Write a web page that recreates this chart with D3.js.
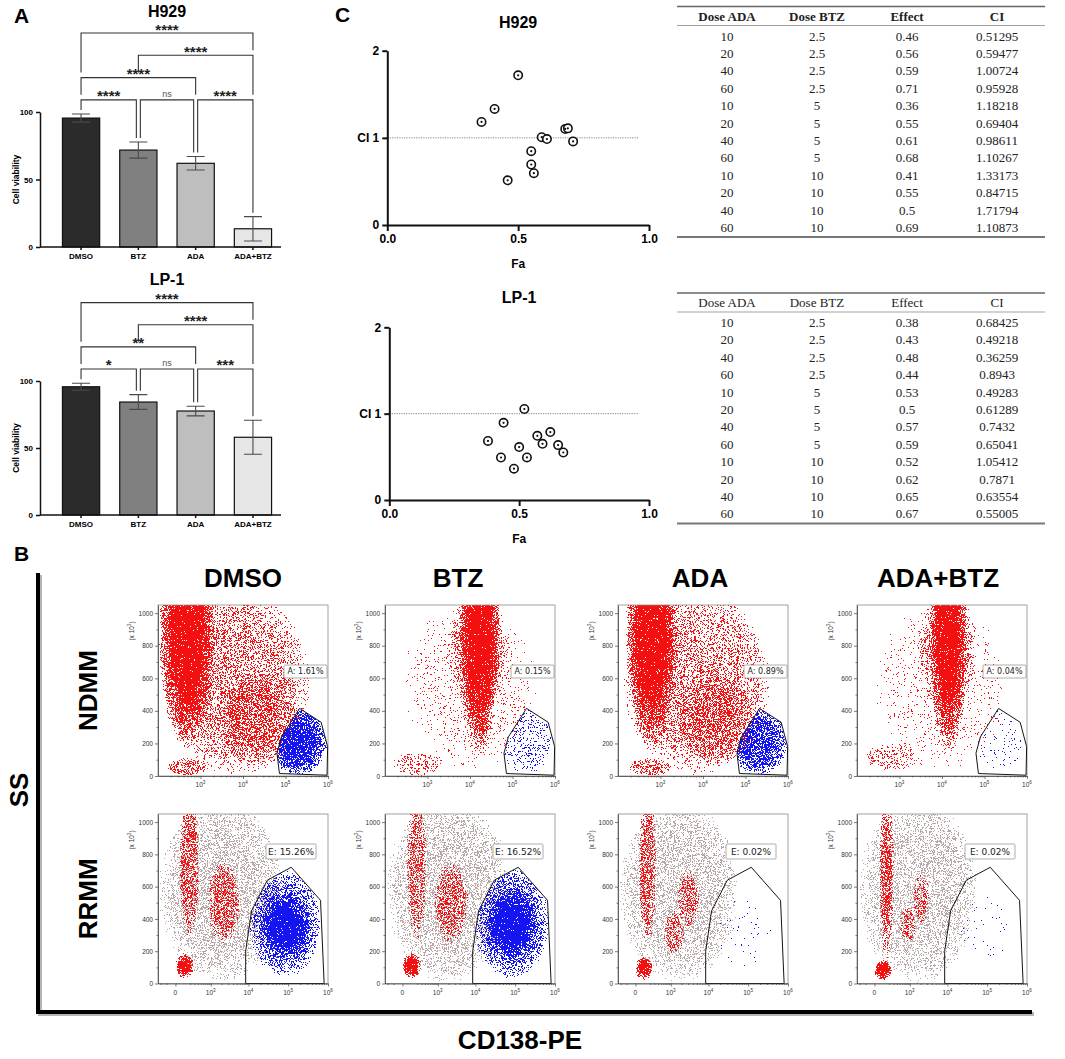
<!DOCTYPE html>
<html>
<head>
<meta charset="utf-8">
<script src="https://cdn.jsdelivr.net/npm/d3@7"></script>
<style>
  body { margin: 0; background: #fff; }
  svg { display: block; }
  text { font-family: "Liberation Sans", Arial, sans-serif; }
  .serif text { font-family: "Liberation Serif", "Times New Roman", serif; }
  .gatelabel { font-family: "DejaVu Sans", Verdana, sans-serif; }
</style>
</head>
<body>
<script>
// ---------- data ----------
const groups = ['DMSO', 'BTZ', 'ADA', 'ADA+BTZ'];

// panel A: cell viability (mean, error)
const h929Mean = [95.5, 71.8, 62, 13.5];
const h929Err = [3, 6, 5, 9];
const lp1Mean = [95.7, 84.3, 77.6, 58];
const lp1Err = [2.6, 5.5, 3.6, 12.7];
// comparisons, listed bottom to top: [group a, group b, label]
const h929Stats = [[0, 1, '****'], [1, 2, 'ns'], [2, 3, '****'], [0, 2, '****'], [1, 3, '****'], [0, 3, '****']];
const lp1Stats = [[0, 1, '*'], [1, 2, 'ns'], [2, 3, '***'], [0, 2, '**'], [1, 3, '****'], [0, 3, '****']];

// panel C: combination index tables
const tableHead = ['Dose ADA', 'Dose BTZ', 'Effect', 'CI'];
const doseADA = ['10', '20', '40', '60', '10', '20', '40', '60', '10', '20', '40', '60'];
const doseBTZ = ['2.5', '2.5', '2.5', '2.5', '5', '5', '5', '5', '10', '10', '10', '10'];
const h929Effect = [0.46, 0.56, 0.59, 0.71, 0.36, 0.55, 0.61, 0.68, 0.41, 0.55, 0.5, 0.69];
const h929CI = [0.51295, 0.59477, 1.00724, 0.95928, 1.18218, 0.69404, 0.98611, 1.10267, 1.33173, 0.84715, 1.71794, 1.10873];
const lp1Effect = [0.38, 0.43, 0.48, 0.44, 0.53, 0.5, 0.57, 0.59, 0.52, 0.62, 0.65, 0.67];
const lp1CI = [0.68425, 0.49218, 0.36259, 0.8943, 0.49283, 0.61289, 0.7432, 0.65041, 1.05412, 0.7871, 0.63554, 0.55005];

// panel B: flow cytometry
const flowRows = ['NDMM', 'RRMM'];
const gateText = [['A: 1.61%', 'A: 0.15%', 'A: 0.89%', 'A: 0.04%'],
                  ['E: 15.26%', 'E: 16.52%', 'E: 0.02%', 'E: 0.02%']];
// gate polygons [CD138-PE, SS (x10^3)]
const ndmmGate = [[72000, 15], [63000, 140], [80000, 240], [214000, 415], [690000, 330], [980000, 180], [950000, 5]];
const rrmmGate = [[8500, 0], [8500, 200], [12000, 450], [30000, 640], [120000, 720], [650000, 515], [800000, 0]];
// event clouds: [column, colour, x from, x to, y from, y to, density]
const ndmmClouds = [
  [0, 'red', 130, 400000, 0, 1150, 0.32], [0, 'red', 2000, 200000, 60, 650, 0.4],
  [0, 'red', 105, 2300, 170, 1600, 1.0], [0, 'red', 160, 1600, 0, 110, 0.45],
  [0, 'blue', 40000, 1000000, 0, 420, 0.9],
  [1, 'red', 200, 500000, 0, 1100, 0.05], [1, 'red', 5500, 50000, 120, 1600, 1.0],
  [1, 'red', 3000, 80000, 380, 1150, 0.4], [1, 'red', 150, 2500, 0, 150, 0.25],
  [1, 'blue', 50000, 900000, 0, 450, 0.15],
  [2, 'red', 130, 400000, 0, 1150, 0.3], [2, 'red', 2000, 200000, 60, 650, 0.38],
  [2, 'red', 150, 2600, 170, 1600, 1.0], [2, 'red', 180, 1800, 0, 110, 0.45],
  [2, 'blue', 40000, 1000000, 0, 420, 0.75],
  [3, 'red', 200, 500000, 0, 1100, 0.04], [3, 'red', 5000, 40000, 150, 1600, 1.0],
  [3, 'red', 2500, 70000, 380, 1150, 0.3], [3, 'red', 150, 3000, 30, 200, 0.22],
  [3, 'blue', 50000, 900000, 0, 450, 0.03]
];
const rrmmClouds = [
  [0, 'gray', -250, 80000, 0, 1150, 0.34], [0, 'red', 40, 450, 280, 1200, 0.5],
  [0, 'red', 800, 6000, 250, 750, 0.5], [0, 'red', 0, 280, 30, 190, 1.0],
  [0, 'blue', 20000, 350000, 150, 560, 1.0], [0, 'blue', 10000, 700000, 40, 700, 0.6],
  [1, 'gray', -250, 80000, 0, 1150, 0.34], [1, 'red', 40, 450, 250, 1200, 0.45],
  [1, 'red', 800, 6500, 250, 750, 0.45], [1, 'red', 0, 300, 30, 190, 1.0],
  [1, 'blue', 20000, 350000, 150, 580, 1.0], [1, 'blue', 9000, 750000, 30, 720, 0.65],
  [2, 'gray', -250, 60000, 0, 1150, 0.32], [2, 'red', 30, 350, 250, 1200, 0.5],
  [2, 'red', 600, 2500, 180, 450, 0.4], [2, 'red', 1500, 6000, 350, 700, 0.4],
  [2, 'red', 0, 250, 20, 170, 1.0], [2, 'blue', 10000, 600000, 50, 600, 0.015],
  [3, 'gray', -250, 60000, 0, 1150, 0.3], [3, 'red', 50, 320, 150, 1200, 0.55],
  [3, 'red', 500, 1500, 250, 480, 0.4], [3, 'red', 1200, 3500, 380, 680, 0.4],
  [3, 'red', 0, 260, 20, 150, 1.0], [3, 'blue', 10000, 600000, 50, 600, 0.015]
];

// ---------- page ----------
const W = 1065, H = 1059;
const svg = d3.select('body').append('svg').attr('width', W).attr('height', H);
const defs = svg.append('defs');
const barFill = ['#2b2b2b', '#808080', '#bebebe', '#e6e6e6'];
const dotColour = { red: '#f21010', blue: '#1515f0', gray: '#b9a6a6' };

const label = (x, y, t, size, anchor) => svg.append('text')
  .attr('x', x).attr('y', y).attr('font-size', size).attr('font-weight', 'bold')
  .attr('text-anchor', anchor || 'start').text(t);

label(14, 23, 'A', 21);
label(335, 22, 'C', 21);
label(14, 561, 'B', 21);

// ---------- panel A ----------
function barPanel(p) {
  const g = svg.append('g');
  const x = d3.scaleBand().domain(groups).range([52.4, 281.6]).paddingInner(0.35).paddingOuter(0.175);
  const y = d3.scaleLinear().domain([0, 100]).range(p.yRange);
  const cx = i => x(groups[i]) + x.bandwidth() / 2;

  g.append('text').attr('x', 167).attr('y', p.titleY).attr('text-anchor', 'middle')
    .attr('font-size', 16).attr('font-weight', 'bold').text(p.title);

  g.selectAll('rect').data(groups).join('rect')
    .attr('x', d => x(d)).attr('width', x.bandwidth())
    .attr('y', (d, i) => y(p.mean[i])).attr('height', (d, i) => y(0) - y(p.mean[i]))
    .attr('fill', (d, i) => barFill[i]).attr('stroke', '#111').attr('stroke-width', 1.2);

  // error bars
  const eb = g.append('g').attr('stroke', '#4a4a4a').attr('stroke-width', 1.1);
  groups.forEach((d, i) => {
    const lo = y(p.mean[i] - p.err[i]), hi = y(p.mean[i] + p.err[i]);
    eb.append('path').attr('d', `M${cx(i)},${lo}V${hi}M${cx(i) - 9},${hi}H${cx(i) + 9}M${cx(i) - 9},${lo}H${cx(i) + 9}`);
  });

  // axes
  const gy = g.append('g').attr('transform', 'translate(40,0)')
    .call(d3.axisLeft(y).tickValues([0, 50, 100]).tickSize(4).tickSizeOuter(0));
  gy.attr('font-size', 8).attr('font-weight', 'bold');
  gy.selectAll('path,line').attr('stroke', '#111').attr('stroke-width', 1.5);
  const gx = g.append('g').attr('transform', `translate(0,${y(0)})`)
    .call(d3.axisBottom(x).tickSize(3).tickSizeOuter(0));
  gx.attr('font-size', 8).attr('font-weight', 'bold');
  gx.select('.domain').attr('d', 'M40,0H281');
  gx.selectAll('path,line').attr('stroke', '#111').attr('stroke-width', 1.5);

  g.append('text').attr('transform', `translate(19,${(y(0) + y(100)) / 2}) rotate(-90)`)
    .attr('text-anchor', 'middle').attr('font-size', 8.5).attr('font-weight', 'bold').text('Cell viability');

  // significance brackets
  const br = p.stats.map((s, i) => ({ a: s[0], b: s[1], txt: s[2], level: i < 3 ? 0 : i - 2 }));
  const levelY = l => y(109 + 16.5 * l);
  const bg = g.append('g').attr('stroke', '#333').attr('stroke-width', 1.1).attr('fill', 'none');
  br.forEach(b => {
    const ly = levelY(b.level);
    const ends = [b.a, b.b].map((gi, k) => {
      const shared = br.some(o => o !== b && o.level === b.level && (o.a === gi || o.b === gi));
      const px = cx(gi) + (shared ? (k === 0 ? 2 : -2) : 0);
      const below = br.filter(o => o.level < b.level && cx(o.a) - 3 <= px && cx(o.b) + 3 >= px)
        .map(o => levelY(o.level));
      const bottom = below.length ? d3.min(below) - 5 : y(p.mean[gi] + p.err[gi]) - 4;
      return [px, bottom];
    });
    bg.append('path').attr('d', `M${ends[0][0]},${ends[0][1]}V${ly}H${ends[1][0]}V${ends[1][1]}`);
    const mid = (ends[0][0] + ends[1][0]) / 2;
    if (b.txt === 'ns') {
      g.append('text').attr('x', mid).attr('y', ly - 3).attr('text-anchor', 'middle')
        .attr('font-size', 9).attr('fill', '#555').text('ns');
    } else {
      g.append('text').attr('x', mid).attr('y', ly + 1.5).attr('text-anchor', 'middle')
        .attr('font-size', 15).attr('font-weight', 'bold').attr('fill', '#222').text(b.txt);
    }
  });
}

barPanel({ title: 'H929', titleY: 17, yRange: [247, 112], mean: h929Mean, err: h929Err, stats: h929Stats });
barPanel({ title: 'LP-1', titleY: 285, yRange: [515, 381], mean: lp1Mean, err: lp1Err, stats: lp1Stats });

// ---------- panel C ----------
function ciPanel(p) {
  const g = svg.append('g');
  const x = d3.scaleLinear().domain([0, 1]).range(p.xRange);
  const y = d3.scaleLinear().domain([0, 2]).range(p.yRange);

  g.append('text').attr('x', x(0.5)).attr('y', p.titleY).attr('text-anchor', 'middle')
    .attr('font-size', 16).attr('font-weight', 'bold').text(p.title);

  g.append('line').attr('x1', x(0)).attr('x2', x(0.96)).attr('y1', y(1)).attr('y2', y(1))
    .attr('stroke', '#666').attr('stroke-width', 0.8).attr('stroke-dasharray', '1.2 1.2');

  const gx = g.append('g').attr('transform', `translate(0,${y(0)})`)
    .call(d3.axisBottom(x).tickValues([0, 0.5, 1]).tickFormat(d3.format('.1f')).tickSize(6).tickSizeOuter(0));
  const gy = g.append('g').attr('transform', `translate(${x(0)},0)`)
    .call(d3.axisLeft(y).tickValues([0, 1, 2]).tickFormat(d => d === 1 ? 'CI 1' : d).tickSize(5).tickSizeOuter(0));
  [gx, gy].forEach(a => {
    a.attr('font-size', 12).attr('font-weight', 'bold');
    a.selectAll('path,line').attr('stroke', '#111').attr('stroke-width', 2);
  });
  g.append('text').attr('x', x(0.5)).attr('y', y(0) + 43).attr('text-anchor', 'middle')
    .attr('font-size', 12).attr('font-weight', 'bold').text('Fa');

  const pts = p.effect.map((e, i) => [e, p.ci[i]]);
  g.selectAll('circle.m').data(pts).join('circle').attr('class', 'm')
    .attr('cx', d => x(d[0])).attr('cy', d => y(d[1])).attr('r', 4.2)
    .attr('fill', '#fff').attr('stroke', '#111').attr('stroke-width', 1.6);
  g.selectAll('circle.c').data(pts).join('circle').attr('class', 'c')
    .attr('cx', d => x(d[0])).attr('cy', d => y(d[1])).attr('r', 1.1).attr('fill', '#111');
}

ciPanel({ title: 'H929', titleY: 28, xRange: [387.3, 649], yRange: [225, 50.7], effect: h929Effect, ci: h929CI });
ciPanel({ title: 'LP-1', titleY: 303, xRange: [389.3, 649], yRange: [500, 327.3], effect: lp1Effect, ci: lp1CI });

function ciTable(p) {
  const g = svg.append('g').attr('class', 'serif').attr('font-size', 13).attr('fill', '#222');
  const col = d3.scalePoint().domain(tableHead).range([727, 997]);
  const row = d3.scalePoint().domain(d3.range(doseADA.length)).range([p.top + 29.5, p.top + 29.5 + 11 * 17.4]);
  const rule = (yy, w, c) => g.append('line').attr('x1', 677).attr('x2', 1045)
    .attr('y1', yy).attr('y2', yy).attr('stroke', c).attr('stroke-width', w);
  rule(p.top, 1.3, '#666');
  rule(p.top + 19, 0.9, '#999');
  rule(row(11) + 9.5, 2, '#777');
  g.selectAll('text.h').data(tableHead).join('text').attr('class', 'h')
    .attr('x', d => col(d)).attr('y', p.top + 9.8).attr('dy', '0.35em').attr('text-anchor', 'middle')
    .attr('font-weight', p.bold ? 'bold' : 'normal').text(d => d);
  const cols = [doseADA, doseBTZ, p.effect, p.ci];
  cols.forEach((vals, c) => {
    g.selectAll(null).data(vals).join('text')
      .attr('x', col(tableHead[c])).attr('y', (d, i) => row(i)).attr('dy', '0.35em')
      .attr('text-anchor', 'middle').text(d => String(d));
  });
}

ciTable({ top: 6.5, bold: true, effect: h929Effect, ci: h929CI });
ciTable({ top: 293, bold: false, effect: lp1Effect, ci: lp1CI });

// ---------- panel B ----------
// stippled density: an equalised noise field is thresholded against each cloud's opacity
const erf = z => { const t = 1 / (1 + 0.3275911 * Math.abs(z));
  const v = 1 - t * (0.254829592 + t * (-0.284496736 + t * (1.421413741 + t * (-1.453152027 + t * 1.061405429)))) * Math.exp(-z * z);
  return z < 0 ? -v : v; };
const noiseTable = d3.range(0, 1.0001, 0.05).map(r => (0.5 * (1 + erf((r - 0.5) / (0.1 * Math.SQRT2)))).toFixed(4)).join(' ');

function stipple(id, colour, seed) {
  const f = defs.append('filter').attr('id', id)
    .attr('x', -0.05).attr('y', -0.05).attr('width', 1.1).attr('height', 1.1)
    .attr('color-interpolation-filters', 'sRGB');
  f.append('feTurbulence').attr('type', 'fractalNoise').attr('baseFrequency', 2.3)
    .attr('numOctaves', 2).attr('seed', seed).attr('result', 'noise');
  f.append('feColorMatrix').attr('in', 'noise').attr('type', 'matrix')
    .attr('values', '0 0 0 0 0  0 0 0 0 0  0 0 0 0 0  1 0 0 0 0').attr('result', 'raw');
  f.append('feComponentTransfer').attr('in', 'raw').attr('result', 'n')
    .append('feFuncA').attr('type', 'table').attr('tableValues', noiseTable);
  f.append('feComposite').attr('in', 'SourceAlpha').attr('in2', 'n').attr('operator', 'arithmetic')
    .attr('k1', 0).attr('k2', 1).attr('k3', -1).attr('k4', 0.49).attr('result', 'sum');
  f.append('feComponentTransfer').attr('in', 'sum').attr('result', 'mask')
    .append('feFuncA').attr('type', 'discrete').attr('tableValues', '0 1');
  f.append('feFlood').attr('flood-color', colour).attr('result', 'ink');
  f.append('feComposite').attr('in', 'ink').attr('in2', 'mask').attr('operator', 'in');
}
stipple('dots-red', dotColour.red, 3);
stipple('dots-blue', dotColour.blue, 11);
stipple('dots-gray', dotColour.gray, 23);

const grad = defs.append('radialGradient').attr('id', 'cloud');
[[0, 1], [0.55, 0.97], [0.78, 0.65], [0.92, 0.25], [1, 0]].forEach(s =>
  grad.append('stop').attr('offset', s[0]).attr('stop-color', '#000').attr('stop-opacity', s[1]));

const flowLeft = [158, 385, 618, 857];
const titleX = [243, 458, 700, 938];
const rowTop = [605, 814];
const rowH = [171, 169.5];
const plotW = 170;

function sup(sel, base, exp) {
  sel.text(base);
  sel.append('tspan').attr('dy', -3).attr('font-size', '70%').text(exp);
}

function flowPlot(row, col) {
  const L = flowLeft[col], T = rowTop[row], h = rowH[row];
  const x = row === 0
    ? d3.scaleLog().domain([100, 1e6]).range([L, L + plotW])
    : d3.scaleSymlog().constant(150).domain([-260, 1e6]).range([L, L + plotW]);
  const y = d3.scaleLinear().domain([0, 1050]).range([T + h, T]);
  const g = svg.append('g');
  const id = `p${row}${col}`;

  defs.append('clipPath').attr('id', `frame-${id}`).append('rect')
    .attr('x', L).attr('y', T).attr('width', plotW).attr('height', h);
  const gatePts = (row === 0 ? ndmmGate : rrmmGate).map(d => [x(d[0]), y(d[1])]);
  defs.append('clipPath').attr('id', `gate-${id}`).append('path')
    .attr('d', d3.line()(gatePts) + 'Z');

  const clouds = (row === 0 ? ndmmClouds : rrmmClouds).filter(c => c[0] === col);
  ['gray', 'red', 'blue'].forEach(colour => {
    const set = clouds.filter(c => c[1] === colour);
    if (!set.length) return;
    const outer = g.append('g').attr('clip-path', `url(#${colour === 'blue' ? 'gate' : 'frame'}-${id})`);
    const inner = outer.append('g').attr('filter', `url(#dots-${colour})`);
    inner.selectAll('ellipse').data(set).join('ellipse')
      .attr('cx', c => (x(c[2]) + x(c[3])) / 2).attr('rx', c => Math.abs(x(c[3]) - x(c[2])) / 2)
      .attr('cy', c => (y(c[4]) + y(c[5])) / 2).attr('ry', c => Math.abs(y(c[4]) - y(c[5])) / 2)
      .attr('fill', 'url(#cloud)').attr('fill-opacity', c => c[6]);
  });

  g.append('rect').attr('x', L).attr('y', T).attr('width', plotW).attr('height', h)
    .attr('fill', 'none').attr('stroke', '#8a8a8a').attr('stroke-width', 0.8);
  g.append('path').attr('d', d3.line()(gatePts) + 'Z')
    .attr('fill', 'none').attr('stroke', '#151515').attr('stroke-width', 1);

  // axes
  const ax = g.append('g').attr('transform', `translate(${L},0)`)
    .call(d3.axisLeft(y).tickValues(d3.range(0, 1001, 200)).tickFormat(d3.format('d'))
      .tickSize(3).tickSizeOuter(0).tickPadding(2));
  ax.attr('font-size', 6.5);
  ax.selectAll('text').attr('fill', '#333');
  g.append('g').attr('transform', `translate(${L},0)`)
    .call(d3.axisLeft(y).tickValues(d3.range(100, 1001, 200)).tickSize(1.5).tickFormat(''))
    .select('.domain').remove();

  const xMajor = row === 0 ? [1e3, 1e4, 1e5, 1e6] : [0, 1e3, 1e4, 1e5, 1e6];
  const xMinor = [];
  for (let k = row === 0 ? 2 : 3; k <= 5; k++) d3.range(2, 10).forEach(m => xMinor.push(m * 10 ** k));
  if (row === 1) d3.range(200, 1000, 100).concat([-100, -200]).forEach(v => xMinor.push(v));
  const bx = g.append('g').attr('transform', `translate(0,${T + h})`)
    .call(d3.axisBottom(x).tickValues(xMajor).tickSize(3).tickSizeOuter(0).tickFormat(''));
  g.append('g').attr('transform', `translate(0,${T + h})`)
    .call(d3.axisBottom(x).tickValues(xMinor).tickSize(1.5).tickFormat('')).select('.domain').remove();
  [ax, bx].forEach(a => a.selectAll('path,line').attr('stroke', '#444').attr('stroke-width', 0.8));
  g.selectAll('.tick line').attr('stroke', '#444').attr('stroke-width', 0.7);

  xMajor.forEach(v => {
    const t = g.append('text').attr('x', x(v)).attr('y', T + h + 11).attr('text-anchor', 'middle')
      .attr('font-size', 6.5).attr('fill', '#333');
    if (v === 0) t.text('0'); else sup(t, '10', String(Math.log10(v)));
  });
  const yl = g.append('text').attr('transform', `translate(${L - 24},${T + 26}) rotate(-90)`)
    .attr('text-anchor', 'middle').attr('font-size', 6.5).attr('fill', '#333');
  sup(yl, '(x 10', '3');
  yl.append('tspan').attr('dy', 3).text(')');

  // gate percentage
  const txt = gateText[row][col];
  const boxW = row === 0 ? 43 : 50, boxH = row === 0 ? 13 : 15;
  const bxX = row === 0 ? L + plotW - 1 - boxW : L + 133 - boxW / 2;
  const bxY = row === 0 ? T + 60 : T + 30;
  g.append('rect').attr('x', bxX).attr('y', bxY).attr('width', boxW).attr('height', boxH).attr('rx', 1)
    .attr('fill', '#fff').attr('stroke', '#9a9a9a').attr('stroke-width', 0.8);
  g.append('text').attr('class', 'gatelabel').attr('x', bxX + boxW / 2).attr('y', bxY + boxH / 2).attr('dy', '0.35em')
    .attr('text-anchor', 'middle').attr('font-size', row === 0 ? 8 : 9).attr('fill', '#222').text(txt);
}

flowRows.forEach((r, ri) => groups.forEach((c, ci) => flowPlot(ri, ci)));

// sample titles and row labels
groups.forEach((c, i) => label(titleX[i], 587, c, 26, 'middle'));
flowRows.forEach((r, i) => svg.append('text')
  .attr('transform', `translate(97,${rowTop[i] + rowH[i] / 2}) rotate(-90)`)
  .attr('text-anchor', 'middle').attr('font-size', 26).attr('font-weight', 'bold').text(r));
svg.append('text').attr('transform', 'translate(28,790) rotate(-90)')
  .attr('text-anchor', 'middle').attr('font-size', 26).attr('font-weight', 'bold').text('SS');
label(520, 1049, 'CD138-PE', 26, 'middle');

// outer L-shaped axis frame with shadow
svg.append('path').attr('d', 'M40,575V1014H1034').attr('fill', 'none')
  .attr('stroke', '#b5b5b5').attr('stroke-width', 4);
svg.append('path').attr('d', 'M38,573V1012H1032').attr('fill', 'none')
  .attr('stroke', '#000').attr('stroke-width', 4);
</script>
</body>
</html>
